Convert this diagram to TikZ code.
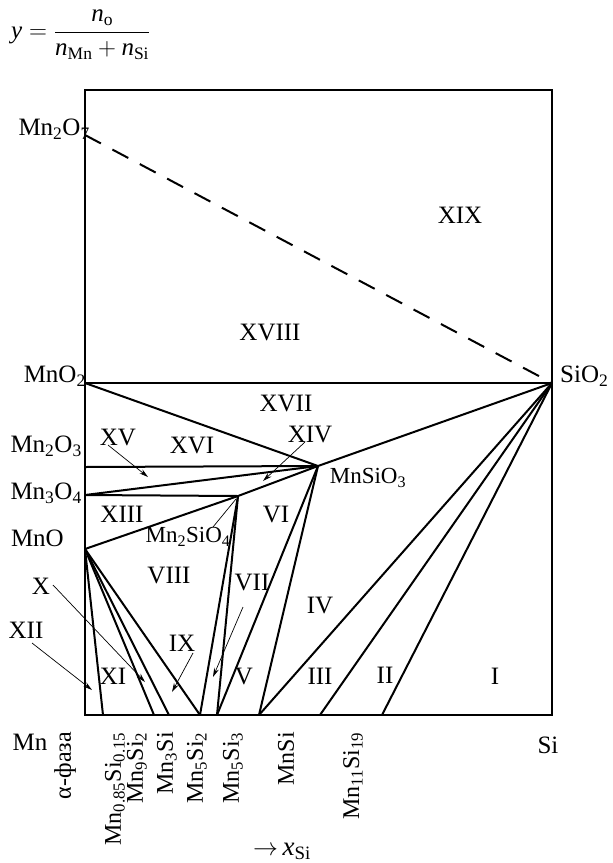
\documentclass[tikz,border=0pt]{standalone}
\usepackage{fontspec}
\setmainfont{Liberation Serif}
\usepackage{amsmath}
\usetikzlibrary{arrows.meta}
\begin{document}
\begin{tikzpicture}[x=1pt,y=-1pt,
  ln/.style={line width=2pt},
  ptr/.style={line width=0.7pt,-{Stealth[length=9pt,width=5pt]}},
  thinln/.style={line width=0.7pt},
  lbl/.style={font=\fontsize{25}{28}\selectfont, inner sep=0pt},
  sml/.style={font=\fontsize{23}{26}\selectfont, inner sep=0pt},
  bot/.style={font=\fontsize{24}{26}\selectfont, inner sep=0pt, rotate=90, anchor=east}
]
\useasboundingbox (0,0) rectangle (613,863);
% key points
\coordinate (TL) at (85,90);
\coordinate (TR) at (552,90);
\coordinate (BR) at (552,715);
\coordinate (BL) at (85,715);
\coordinate (Mn2O7) at (85,135);
\coordinate (MnO2) at (85,383);
\coordinate (SiO2) at (552,383);
\coordinate (Mn2O3) at (85,467);
\coordinate (Mn3O4) at (85,495);
\coordinate (MnO) at (85,549);
\coordinate (MnSiO3) at (318,466);
\coordinate (Mn2SiO4) at (238,496);
\coordinate (b1) at (103,715);
\coordinate (b2) at (154,715);
\coordinate (b3) at (169,715);
\coordinate (b4) at (200,715);
\coordinate (b5) at (217,715);
\coordinate (b6) at (259,715);
\coordinate (b7) at (320,715);
\coordinate (b8) at (382,715);
% frame
\draw[ln] (TL) -- (TR) -- (BR) -- (BL) -- cycle;
% dashed
\draw[ln, dash pattern=on 18pt off 13pt] (Mn2O7) -- (SiO2);
% solid tie lines
\draw[ln] (MnO2) -- (SiO2);
\draw[ln] (MnO2) -- (MnSiO3);
\draw[ln] (Mn2O3) -- (MnSiO3);
\draw[ln] (Mn3O4) -- (MnSiO3);
\draw[ln] (Mn3O4) -- (Mn2SiO4);
\draw[ln] (MnO) -- (Mn2SiO4) -- (MnSiO3) -- (SiO2);
\draw[ln] (MnO) -- (b1);
\draw[ln] (MnO) -- (b2);
\draw[ln] (MnO) -- (b3);
\draw[ln] (MnO) -- (b4);
\draw[ln] (Mn2SiO4) -- (b4);
\draw[ln] (Mn2SiO4) -- (b5);
\draw[ln] (MnSiO3) -- (b5);
\draw[ln] (MnSiO3) -- (b6);
\draw[ln] (SiO2) -- (b6);
\draw[ln] (SiO2) -- (b7);
\draw[ln] (SiO2) -- (b8);
% formula
\node[anchor=west, font=\fontsize{25}{28}\selectfont, inner sep=0pt] (frm) at (11,35)
  {$\textit{y} = \dfrac{\textit{n}_{\text{o}}}{\textit{n}_{\text{Mn}}+\textit{n}_{\text{Si}}}$};
% left labels
\node[lbl, anchor=east] (lMn2O7) at (90,129) {Mn\textsubscript{2}O\textsubscript{7}};
\node[lbl, anchor=east] (lMnO2) at (86,376) {MnO\textsubscript{2}};
\node[lbl, anchor=east] (lMn2O3) at (82,446) {Mn\textsubscript{2}O\textsubscript{3}};
\node[lbl, anchor=east] (lMn3O4) at (82,493) {Mn\textsubscript{3}O\textsubscript{4}};
\node[lbl, anchor=east] (lMnO) at (64,538) {MnO};
\node[lbl] (lMn) at (30,742) {Mn};
\node[lbl] (lSi) at (548,745) {Si};
\node[lbl, anchor=west] (lSiO2) at (560,376) {SiO\textsubscript{2}};
% inner compound labels
\node[sml] (lMn2SiO4) at (188,537) {Mn\textsubscript{2}SiO\textsubscript{4}};
\node[sml] (lMnSiO3) at (368,478) {MnSiO\textsubscript{3}};
% region labels
\node[lbl] (r19) at (460,215) {XIX};
\node[lbl] (r18) at (270,332) {XVIII};
\node[lbl] (r17) at (286,403) {XVII};
\node[lbl] (r16) at (192,445) {XVI};
\node[lbl] (r15) at (118,437) {XV};
\node[lbl] (r14) at (310,434) {XIV};
\node[lbl] (r13) at (122,514) {XIII};
\node[lbl] (r6) at (276,514) {VI};
\node[lbl] (r8) at (169,575) {VIII};
\node[lbl] (r7) at (252,582) {VII};
\node[lbl] (r4) at (320,605) {IV};
\node[lbl] (r9) at (182,643) {IX};
\node[lbl] (r11) at (113,676) {XI};
\node[lbl] (r5) at (244,676) {V};
\node[lbl] (r3) at (320,676) {III};
\node[lbl] (r2) at (385,675) {II};
\node[lbl] (r1) at (495,676) {I};
\node[lbl] (r10) at (41,586) {X};
\node[lbl] (r12) at (26,630) {XII};
% pointer arrows
\coordinate (a15s) at (108,445); \coordinate (a15e) at (148,477);
\coordinate (a14s) at (305,442); \coordinate (a14e) at (263,481);
\coordinate (a10s) at (53,585);  \coordinate (a10e) at (145,682);
\coordinate (a12s) at (32,643);  \coordinate (a12e) at (92,690);
\coordinate (a9s) at (193,653);  \coordinate (a9e) at (172,692);
\coordinate (a7s) at (243,607);  \coordinate (a7e) at (213,677);
\coordinate (lds) at (236,499);  \coordinate (lde) at (213,527);
\draw[ptr] (a15s) -- (a15e);
\draw[ptr] (a14s) -- (a14e);
\draw[ptr] (a10s) -- (a10e);
\draw[ptr] (a12s) -- (a12e);
\draw[ptr] (a9s) -- (a9e);
\draw[ptr] (a7s) -- (a7e);
\draw[thinln] (lds) -- (lde);
% bottom labels
\node[bot] (bA) at (65,732) {α-фаза};
\node[bot] (bB) at (115,732) {Mn\textsubscript{0.85}Si\textsubscript{0.15}};
\node[bot] (bC) at (137,732) {Mn\textsubscript{9}Si\textsubscript{2}};
\node[bot] (bD) at (167,732) {Mn\textsubscript{3}Si};
\node[bot] (bE) at (197,732) {Mn\textsubscript{5}Si\textsubscript{2}};
\node[bot] (bF) at (233,732) {Mn\textsubscript{5}Si\textsubscript{3}};
\node[bot] (bG) at (286,732) {MnSi};
\node[bot] (bH) at (353,732) {Mn\textsubscript{11}Si\textsubscript{19}};
\node[font=\fontsize{27}{30}\selectfont, inner sep=0pt] (xsi) at (282,851) {$\rightarrow$\,\textit{x}\textsubscript{Si}};
\end{tikzpicture}
\end{document}
